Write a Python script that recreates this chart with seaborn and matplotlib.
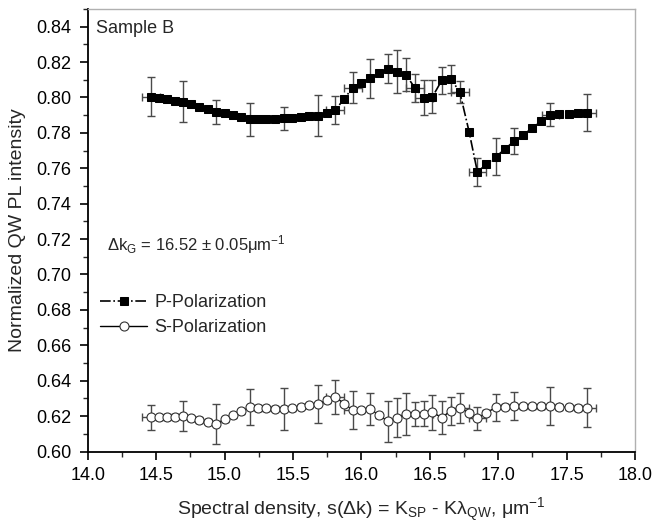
import numpy as np
import pandas as pd
import seaborn as sns
import matplotlib.pyplot as plt
from matplotlib.ticker import MultipleLocator

# spectral density positions (um^-1)
x_vals = [14.465, 14.523, 14.582, 14.640, 14.699, 14.757, 14.816, 14.877, 14.940, 15.001,
          15.062, 15.123, 15.184, 15.245, 15.306, 15.369, 15.433, 15.493, 15.557, 15.618,
          15.683, 15.747, 15.810, 15.874, 15.937, 16.000, 16.064, 16.129, 16.195, 16.259,
          16.325, 16.390, 16.456, 16.519, 16.588, 16.654, 16.719, 16.787, 16.848, 16.914,
          16.985, 17.050, 17.116, 17.184, 17.248, 17.316, 17.382, 17.447, 17.515, 17.582,
          17.650]

p_pol = [0.8005, 0.7997, 0.7990, 0.7982, 0.7975, 0.7962, 0.7945, 0.7935, 0.7918, 0.7911,
         0.7899, 0.7888, 0.7877, 0.7879, 0.7879, 0.7879, 0.7882, 0.7886, 0.7890, 0.7895,
         0.7897, 0.7914, 0.7929, 0.7992, 0.8055, 0.8082, 0.8108, 0.8137, 0.8161, 0.8146,
         0.8129, 0.8055, 0.7999, 0.8003, 0.8097, 0.8105, 0.8031, 0.7807, 0.7579, 0.7623,
         0.7666, 0.7709, 0.7753, 0.7790, 0.7826, 0.7867, 0.7903, 0.7907, 0.7908, 0.7911,
         0.7914]

s_pol = [0.6193, 0.6194, 0.6195, 0.6197, 0.6201, 0.6188, 0.6178, 0.6168, 0.6158, 0.6182,
         0.6205, 0.6227, 0.6249, 0.6246, 0.6244, 0.6242, 0.6240, 0.6244, 0.6253, 0.6260,
         0.6269, 0.6291, 0.6308, 0.6270, 0.6234, 0.6233, 0.6240, 0.6205, 0.6171, 0.6192,
         0.6213, 0.6212, 0.6213, 0.6221, 0.6192, 0.6230, 0.6246, 0.6219, 0.6188, 0.6219,
         0.6250, 0.6253, 0.6257, 0.6255, 0.6255, 0.6255, 0.6257, 0.6251, 0.6250, 0.6246,
         0.6246]

# error bars: point index (0-based) -> half width
p_yerr_big = {0: 0.0108, 4: 0.0116, 8: 0.0068, 12: 0.0092, 16: 0.0066, 20: 0.0117,
              22: 0.0077, 24: 0.0089, 26: 0.0110, 28: 0.0082, 29: 0.0120, 30: 0.0094,
              31: 0.0080, 32: 0.0099, 33: 0.0093, 34: 0.0075, 35: 0.0080, 36: 0.0060,
              38: 0.0078, 40: 0.0104, 42: 0.0073, 46: 0.0064, 50: 0.0105}
s_yerr_big = {0: 0.0071, 4: 0.0087, 8: 0.0113, 12: 0.0102, 16: 0.0118, 20: 0.0106,
              22: 0.0094, 24: 0.0107, 26: 0.0092, 28: 0.0117, 29: 0.0110, 30: 0.0118,
              31: 0.0070, 32: 0.0070, 33: 0.0100, 34: 0.0092, 35: 0.0080, 36: 0.0086,
              38: 0.0066, 40: 0.0075, 42: 0.0078, 46: 0.0105, 50: 0.0110}
xerr_big_idx = [0, 22, 24, 31, 32, 36, 38, 46, 50]

n = len(x_vals)
p_yerr = [p_yerr_big.get(i, 0.0015) for i in range(n)]
s_yerr = [s_yerr_big.get(i, 0.0015) for i in range(n)]
xerr = [0.065 if i in xerr_big_idx else 0.015 for i in range(n)]

df = pd.DataFrame({'x': x_vals, 'P': p_pol, 'S': s_pol})

sns.set_style('ticks')
plt.rcParams['font.family'] = ['Liberation Sans', 'DejaVu Sans']
plt.rcParams['mathtext.default'] = 'regular'

fig = plt.figure(figsize=(6.52, 5.25), dpi=100)
ax = fig.add_axes([0.1345, 0.14, 0.8395, 0.843])

err_kw = dict(fmt='none', ecolor='#4a4a4a', elinewidth=1.0, capsize=3.2, capthick=1.0, zorder=2)
ax.errorbar(df['x'], df['P'], yerr=p_yerr, xerr=xerr, **err_kw)
ax.errorbar(df['x'], df['S'], yerr=s_yerr, xerr=xerr, **err_kw)

sns.lineplot(data=df, x='x', y='P', ax=ax, color='black', linestyle='-.', linewidth=1.2,
             marker='s', markersize=5.5, markerfacecolor='black', markeredgecolor='black',
             label='P-Polarization', zorder=3)
sns.lineplot(data=df, x='x', y='S', ax=ax, color='black', linestyle='-', linewidth=1.0,
             marker='o', markersize=6.5, markerfacecolor='white', markeredgecolor='#333333',
             markeredgewidth=0.8, label='S-Polarization', zorder=3)

ax.set_xlim(14.0, 18.0)
ax.set_ylim(0.60, 0.85)
ax.xaxis.set_major_locator(MultipleLocator(0.5))
ax.xaxis.set_minor_locator(MultipleLocator(0.25))
ax.yaxis.set_major_locator(MultipleLocator(0.02))
ax.yaxis.set_minor_locator(MultipleLocator(0.01))
ax.xaxis.set_major_formatter(plt.FormatStrFormatter('%.1f'))
ax.yaxis.set_major_formatter(plt.FormatStrFormatter('%.2f'))
ax.tick_params(axis='both', which='major', direction='out', length=6, width=1.2,
               labelsize=13, colors='black')
ax.tick_params(axis='y', which='major', pad=6)
ax.tick_params(axis='x', which='major', pad=5)
ax.tick_params(axis='both', which='minor', direction='out', length=3.5, width=1.0)
ax.tick_params(top=False, right=False, which='both')

for side in ['left', 'bottom']:
    ax.spines[side].set_color('black')
    ax.spines[side].set_linewidth(1.3)
for side in ['top', 'right']:
    ax.spines[side].set_color('#b0b0b0')
    ax.spines[side].set_linewidth(1.0)

ax.set_xlabel(r'Spectral density, s($\Delta$k) = K$_{SP}$ - K$\lambda_{QW}$, $\mu$m$^{-1}$',
              fontsize=14, labelpad=9)
ax.set_ylabel('Normalized QW PL intensity', fontsize=14, labelpad=7)

ax.text(0.015, 0.975, 'Sample B', transform=ax.transAxes, fontsize=13, va='top', ha='left')
ax.text(14.14, 0.717, r'$\Delta$k$_G$ = 16.52 $\pm$ 0.05$\mu$m$^{-1}$', fontsize=12,
        va='center', ha='left')

leg = ax.legend(loc='upper left', bbox_to_anchor=(0.0, 0.384), frameon=False, fontsize=13,
                handlelength=2.6, handletextpad=0.4, labelspacing=0.45, borderaxespad=0.3)

fig.savefig('out.png', dpi=100)
